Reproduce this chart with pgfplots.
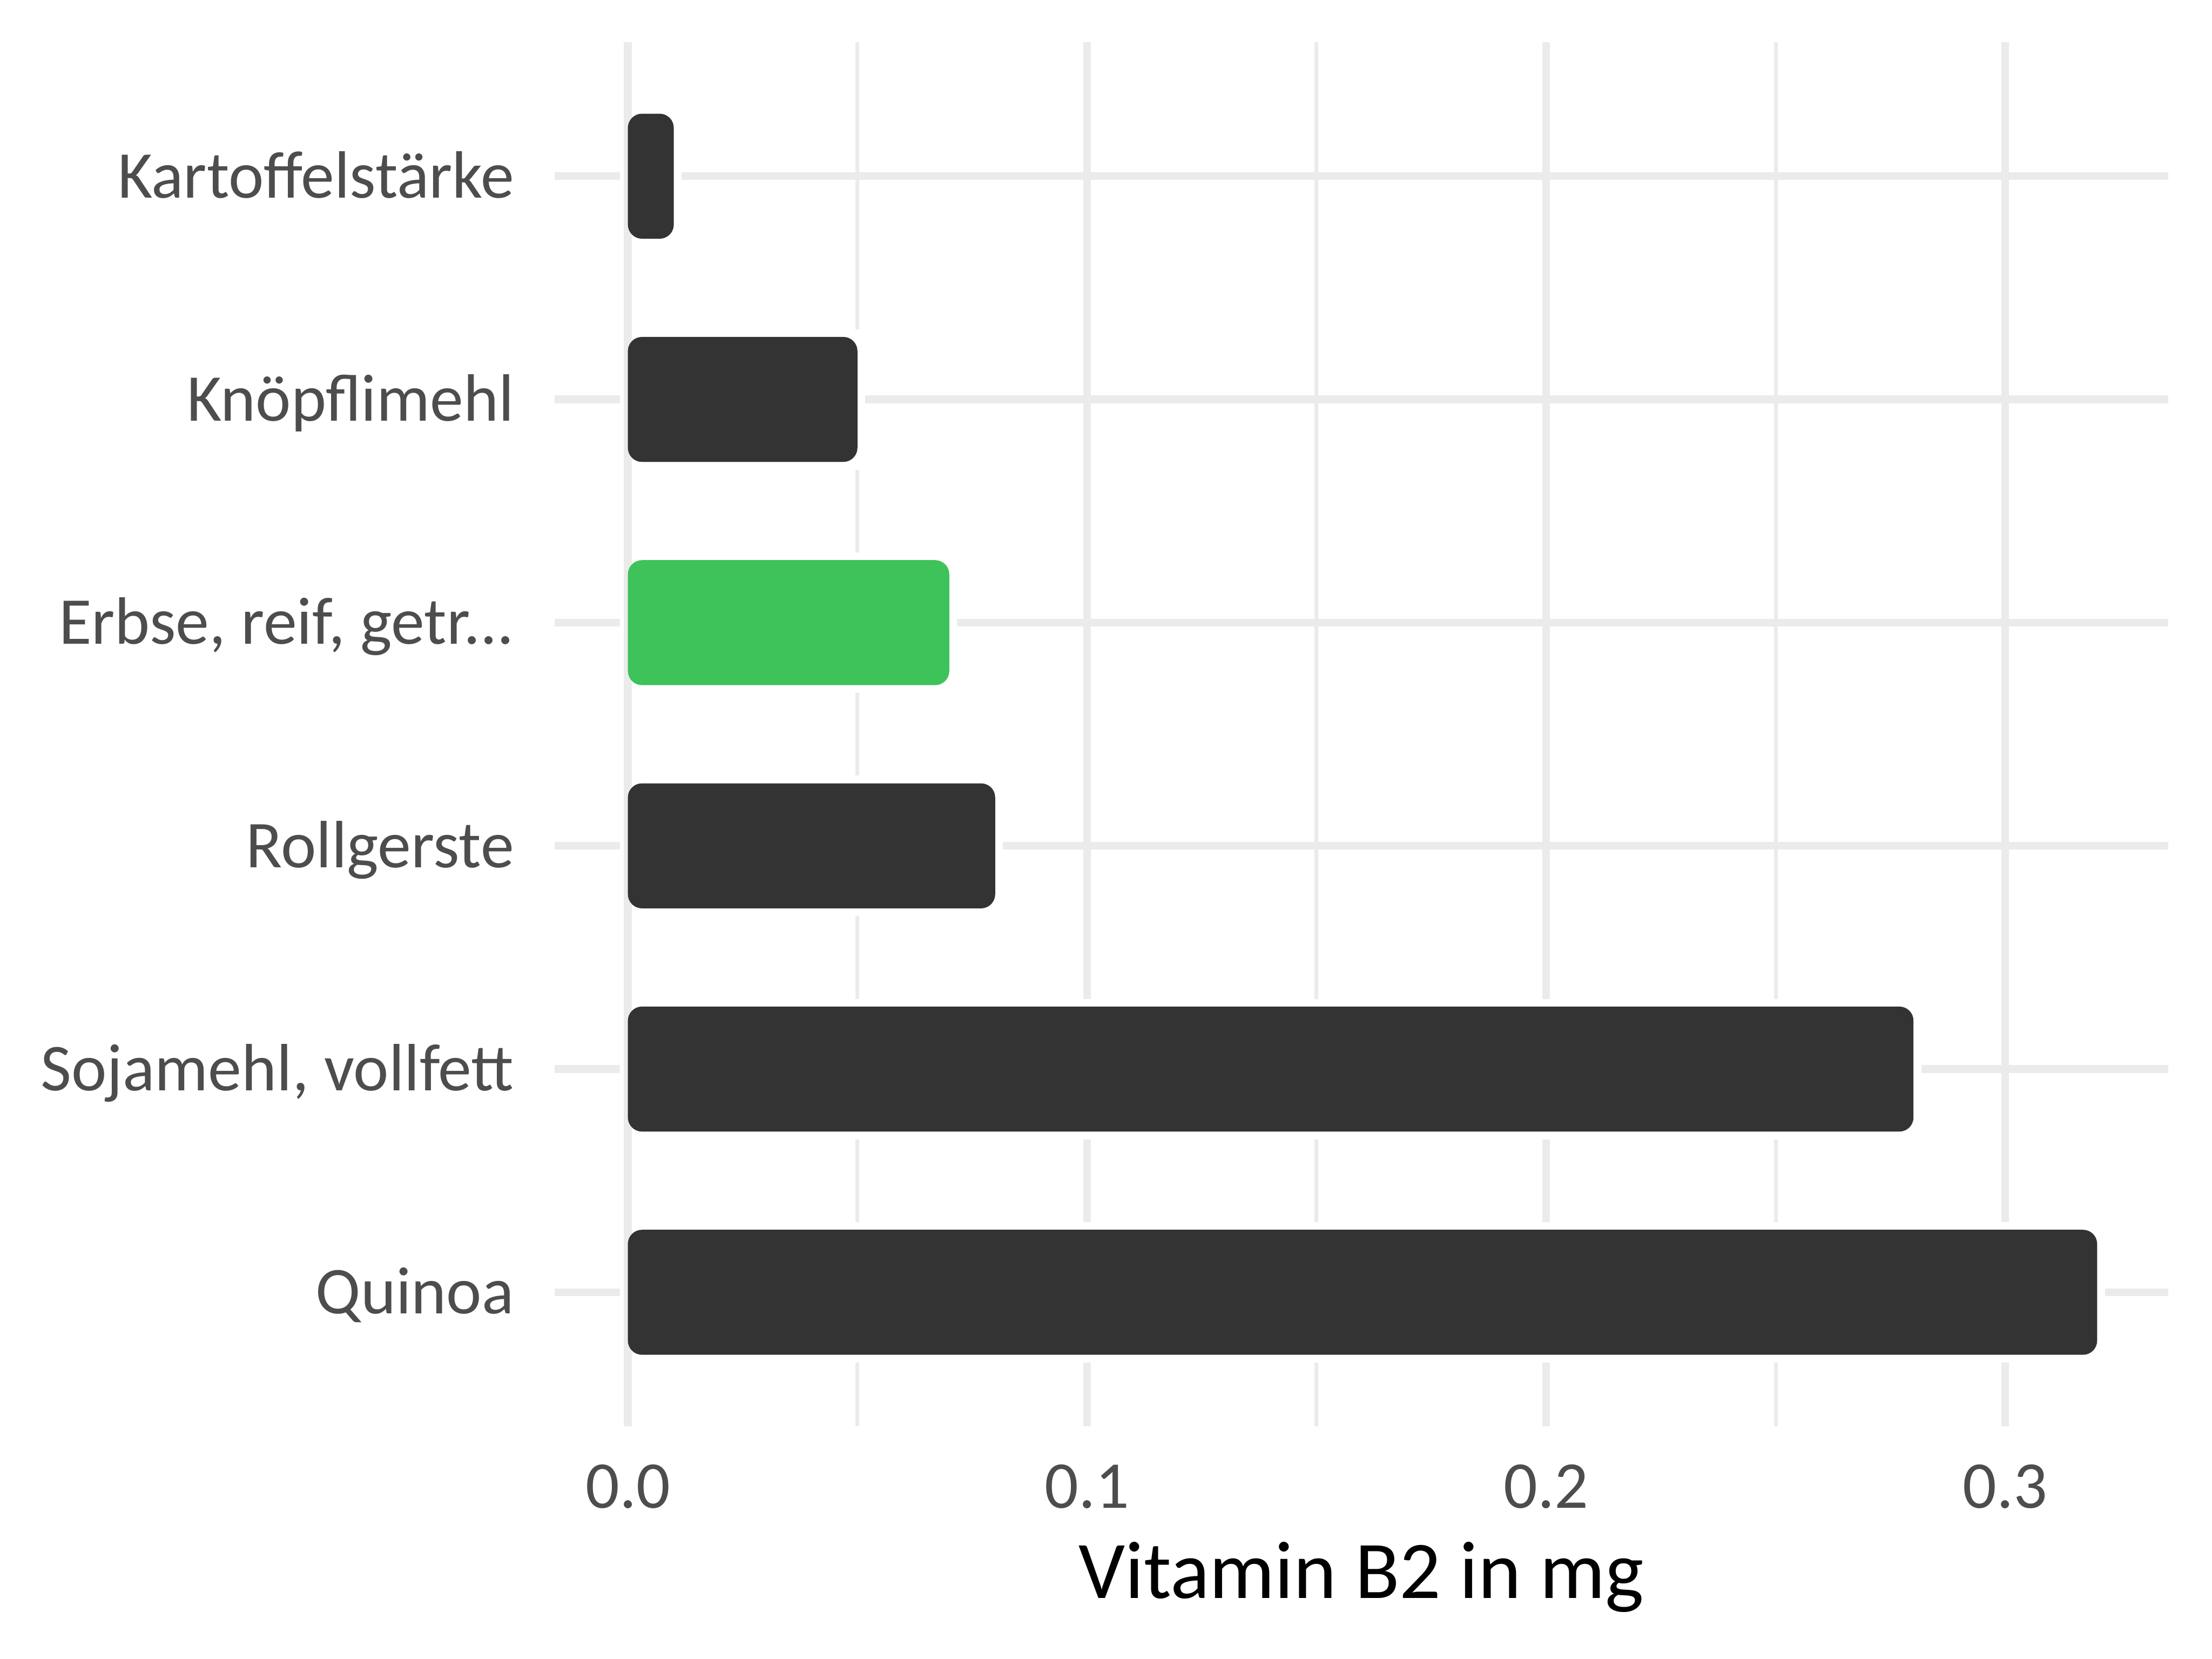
\documentclass[border=0pt]{standalone}
\usepackage{pgfplots}
\pgfplotsset{compat=1.18}
\usepackage{pgfplotstable}
\usepackage{fontspec}
\setmainfont{Carlito}

\definecolor{gridgray}{HTML}{EBEBEB}
\definecolor{bardark}{HTML}{333333}
\definecolor{bargreen}{HTML}{3EC35A}
\definecolor{ticktext}{HTML}{4D4D4D}

% y = category position (top to bottom), val = vitamin B2 in mg
\pgfplotstableread{
y val
6 0.01
5 0.05
3 0.08
2 0.28
1 0.32
}\darkbars
\pgfplotstableread{
y val
4 0.07
}\greenbars

\begin{document}
\begin{tikzpicture}
\useasboundingbox (0,0) rectangle (15.68cm,11.76cm);
\begin{axis}[
    at={(3.93cm,1.65cm)}, anchor=south west,
    scale only axis,
    width=11.44cm, height=9.81cm,
    xmin=-0.016, xmax=0.3355,
    ymin=0.4, ymax=6.6,
    xbar, bar width=0.56, bar shift=0pt,
    axis line style={draw=none},
    major tick length=0pt, minor tick length=0pt,
    xtick={0,0.1,0.2,0.3},
    xticklabels={0.0,0.1,0.2,0.3},
    minor xtick={0.05,0.15,0.25},
    ytick={1,2,3,4,5,6},
    yticklabels={Quinoa,{Sojamehl, vollfett},Rollgerste,{Erbse, reif, getr{.}{.}{.}},Knöpflimehl,Kartoffelstärke},
    grid=both,
    major grid style={gridgray, line width=0.055cm},
    minor grid style={gridgray, line width=0.027cm},
    ticklabel style={font=\fontsize{13.5}{16}\selectfont, text=ticktext, inner sep=0pt},
    yticklabel style={anchor=base east, xshift=-0.28cm, yshift=-0.153cm},
    xticklabel style={anchor=base, yshift=-0.58cm},
    xlabel={Vitamin B2 in mg},
    xlabel style={font=\fontsize{16.5}{19}\selectfont, anchor=base, at={(axis description cs:0.5,0)}, yshift=-1.22cm, inner sep=0pt},
]
% white halo round the bars
\addplot[fill=white, draw=white, line width=0.11cm] table[x=val, y=y] {\darkbars};
\addplot[fill=white, draw=white, line width=0.11cm] table[x=val, y=y] {\greenbars};
\draw[gridgray, line width=0.055cm] (axis cs:0,0.4) -- (axis cs:0,6.6);
% bars
\addplot[fill=bardark, draw=none, rounded corners=0.1cm] table[x=val, y=y] {\darkbars};
\addplot[fill=bargreen, draw=none, rounded corners=0.1cm] table[x=val, y=y] {\greenbars};
\end{axis}
\end{tikzpicture}
\end{document}
